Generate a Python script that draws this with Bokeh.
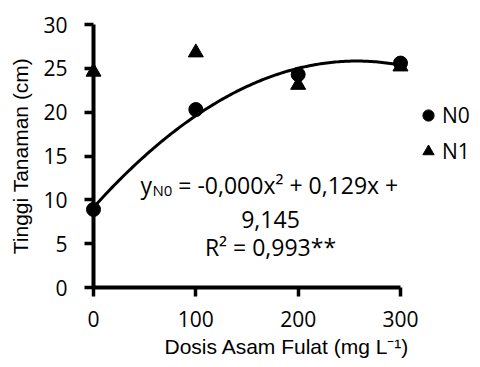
import numpy as np
from bokeh.plotting import figure
from bokeh.models import Range1d, FixedTicker, Label, Legend, LegendItem
from bokeh.embed import file_html
from bokeh.resources import INLINE

# ---- data ----
dose = [0, 100, 200, 300]
n0 = [8.9, 20.3, 24.3, 25.6]
n1 = [24.6, 26.8, 23.1, 25.2]
series_names = ["N0", "N1"]
x_ticks = [0, 100, 200, 300]
y_ticks = [0, 5, 10, 15, 20, 25, 30]
x_title = "Dosis Asam Fulat (mg L\u207b\u00b9)"
y_title = "Tinggi Tanaman (cm)"
eq_y = "y"
eq_sub = "N0"
eq_rest = "= -0,000x\u00b2 + 0,129x +"
eq_line2 = "9,145"
eq_line3 = "R\u00b2 = 0,993**"

# quadratic trend line of N0 (least squares, as the spreadsheet trendline)
coef = np.polyfit(dose, n0, 2)
trend_x = np.linspace(0, 300, 151)
trend_y = np.polyval(coef, trend_x)

# ---- layout ----
W, H = 480, 367
ax_px = 93          # pixel of x=0 (frame left)
px_per_x = 307 / 300
x1 = (W - ax_px) / px_per_x

p = figure(width=W, height=H, title=None, output_backend="svg", toolbar_location=None,
           x_range=Range1d(0, x1), y_range=Range1d(0, 30),
           min_border_left=ax_px, min_border_right=0, min_border_top=24, min_border_bottom=80)
p.outline_line_color = None
p.grid.grid_line_color = None
p.background_fill_color = "white"
p.border_fill_color = "white"

for ax in (p.xaxis[0], p.yaxis[0]):
    ax.axis_line_width = 4
    ax.axis_line_color = "black"
    ax.major_tick_line_width = 3.5
    ax.major_tick_line_color = "black"
    ax.major_tick_in = 0
    ax.major_tick_out = 9
    ax.minor_tick_line_color = None
    ax.major_label_text_font = "Open Sans"
    ax.major_label_text_font_size = "21px"
    ax.major_label_text_color = "black"
    ax.axis_label_text_font = "Liberation Sans"
    ax.axis_label_text_font_size = "21px"
    ax.axis_label_text_font_style = "normal"
    ax.axis_label_text_color = "black"

p.xaxis.ticker = FixedTicker(ticks=x_ticks)
p.yaxis.ticker = FixedTicker(ticks=y_ticks)
p.xaxis.bounds = (0, 300)
p.yaxis.bounds = (0, 30)
p.yaxis.axis_label = y_title
p.yaxis.major_label_standoff = 17
p.yaxis.axis_label_standoff = 8
p.xaxis.axis_label = x_title
p.xaxis.major_label_standoff = 14
p.xaxis.axis_label_standoff = 5

p.line(trend_x, trend_y, line_color="black", line_width=3)
r0 = p.scatter(dose, n0, marker="circle", size=14, color="black", level="overlay")
r1 = p.scatter(dose, n1, marker="triangle", size=15, color="black", level="overlay")

legend = Legend(items=[LegendItem(label=series_names[0], renderers=[r0]),
                       LegendItem(label=series_names[1], renderers=[r1])],
                location=(321, 122), padding=0, spacing=8, glyph_width=28, glyph_height=28,
                label_standoff=0, border_line_color=None, background_fill_alpha=0,
                label_text_font="Open Sans", label_text_font_size="21px",
                label_text_color="black")
p.add_layout(legend)

def px2x(px):
    return (px - ax_px) / px_per_x

def py2y(py):
    return (287 - py) / (263 / 30)

eq_font = "Open Sans"
fs = 23
lx = px2x(140)
ly = py2y(184)
p.add_layout(Label(x=lx, y=ly, text=eq_y, text_font=eq_font, text_font_size=f"{fs}px",
                   text_align="left", text_baseline="alphabetic", text_color="black"))
p.add_layout(Label(x=lx, y=ly, x_offset=0.523 * fs, y_offset=-5, text=eq_sub, text_font=eq_font,
                   text_font_size="15px", text_align="left", text_baseline="alphabetic",
                   text_color="black"))
p.add_layout(Label(x=lx, y=ly, x_offset=0.523 * fs + 1.32 * 15 + 6, text=eq_rest, text_font=eq_font,
                   text_font_size=f"{fs}px", text_align="left", text_baseline="alphabetic",
                   text_color="black"))
p.add_layout(Label(x=px2x(270), y=py2y(219), text=eq_line2, text_font=eq_font,
                   text_font_size=f"{fs}px", text_align="center", text_baseline="alphabetic",
                   text_color="black"))
p.add_layout(Label(x=px2x(270), y=py2y(246), text=eq_line3, text_font=eq_font,
                   text_font_size=f"{fs}px", text_align="center", text_baseline="alphabetic",
                   text_color="black"))

open("out.html", "w").write(file_html(p, INLINE))
